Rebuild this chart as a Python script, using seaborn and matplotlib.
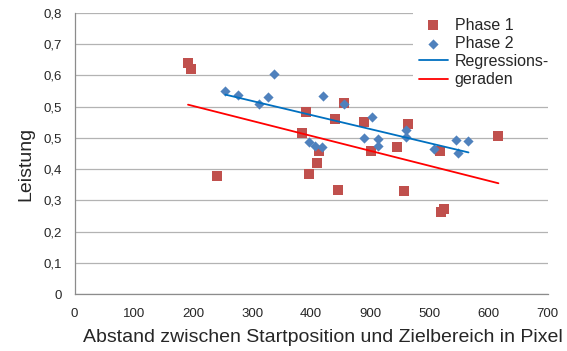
import numpy as np
import pandas as pd
import matplotlib
matplotlib.use("Agg")
import matplotlib.pyplot as plt
import seaborn as sns

# Phase 1 measurements (distance in pixels, performance)
phase1_x = [191.7, 196.2, 240.2, 384.8, 390.4, 396.6, 409.5, 414.0, 439.8, 445.6,
            455.0, 490.0, 501.8, 544.5, 557.5, 563.7, 617.7, 619.0, 624.0, 716.6]
phase1_y = [0.740, 0.719, 0.378, 0.516, 0.581, 0.383, 0.419, 0.459, 0.560, 0.333,
            0.612, 0.550, 0.459, 0.470, 0.330, 0.543, 0.459, 0.263, 0.272, 0.506]

# Phase 2 measurements
phase2_x = [254.9, 275.6, 312.2, 326.2, 336.9, 396.0, 406.7, 418.0, 419.6, 455.0,
            489.5, 502.3, 513.6, 513.6, 560.3, 560.3, 608.0, 644.7, 648.0, 666.0]
phase2_y = [0.650, 0.638, 0.608, 0.631, 0.705, 0.488, 0.475, 0.472, 0.634, 0.607,
            0.499, 0.567, 0.496, 0.475, 0.525, 0.502, 0.464, 0.493, 0.450, 0.491]

x_tick_labels = ["0", "100", "200", "300", "400", "900", "500", "600", "700"]
y_tick_labels = ["0", "0,1", "0,2", "0,3", "0,4", "0,5", "0,5", "0,6", "0,7", "0,8"]

sns.set_theme(style="white")
plt.rcParams["font.family"] = ["Liberation Sans", "DejaVu Sans"]

text_color = "#262626"
axis_color = "#8c8c8c"

fig, ax = plt.subplots(figsize=(5.67, 3.51), dpi=100)
fig.subplots_adjust(left=0.1317, right=0.966, bottom=0.1615, top=0.964)

df1 = pd.DataFrame({"x": phase1_x, "y": phase1_y})
df2 = pd.DataFrame({"x": phase2_x, "y": phase2_y})

sns.scatterplot(data=df1, x="x", y="y", marker="s", s=62, color="#c0504d",
                linewidth=0, ax=ax, label="Phase 1", zorder=3)
sns.scatterplot(data=df2, x="x", y="y", marker="D", s=27, color="#4f81bd",
                linewidth=0, ax=ax, label="Phase 2", zorder=3)

# Linear trend lines over each phase's data range
sns.regplot(data=df2, x="x", y="y", scatter=False, ci=None, truncate=True,
            color="#0070c0", line_kws=dict(lw=1.3, zorder=4),
            label="Regressions-", ax=ax)
sns.regplot(data=df1, x="x", y="y", scatter=False, ci=None, truncate=True,
            color="#ff0000", line_kws=dict(lw=1.3, zorder=4),
            label="geraden", ax=ax)

ax.set_xlim(0, 800)
ax.set_ylim(0, 0.9)
ax.set_xticks(np.arange(0, 801, 100))
ax.set_xticklabels(x_tick_labels)
ax.set_yticks(np.arange(10) / 10)
ax.set_yticklabels(y_tick_labels)

ax.yaxis.grid(True, color="#b3b3b3", lw=0.9)
ax.xaxis.grid(False)
ax.set_axisbelow(True)

for side in ("top", "right"):
    ax.spines[side].set_visible(False)
for side in ("left", "bottom"):
    ax.spines[side].set_color(axis_color)
    ax.spines[side].set_linewidth(0.9)

ax.tick_params(axis="both", direction="out", length=4, width=0.9,
               color=axis_color, labelsize=9.5, labelcolor=text_color)
ax.tick_params(axis="x", pad=6)
ax.tick_params(axis="y", pad=5)

ax.set_xlabel("Abstand zwischen Startposition und Zielbereich in Pixel",
              fontsize=14, color=text_color, labelpad=6)
ax.set_ylabel("Leistung", fontsize=14, color=text_color, labelpad=7)
ax.xaxis.label.set_x(0.525)
ax.yaxis.label.set_y(0.463)

handles, labels = ax.get_legend_handles_labels()
leg = ax.legend(handles, labels, loc="upper left",
                bbox_to_anchor=(413 / 567, 1 - 12 / 351),
                bbox_transform=fig.transFigure,
                fontsize=11.5, frameon=True, fancybox=False, framealpha=1,
                facecolor="white", edgecolor="none",
                handlelength=1.85, handletextpad=0.4, labelspacing=0.2,
                borderpad=0.35, borderaxespad=0)
for t in leg.get_texts():
    t.set_color(text_color)

fig.savefig("out.png", dpi=100)
